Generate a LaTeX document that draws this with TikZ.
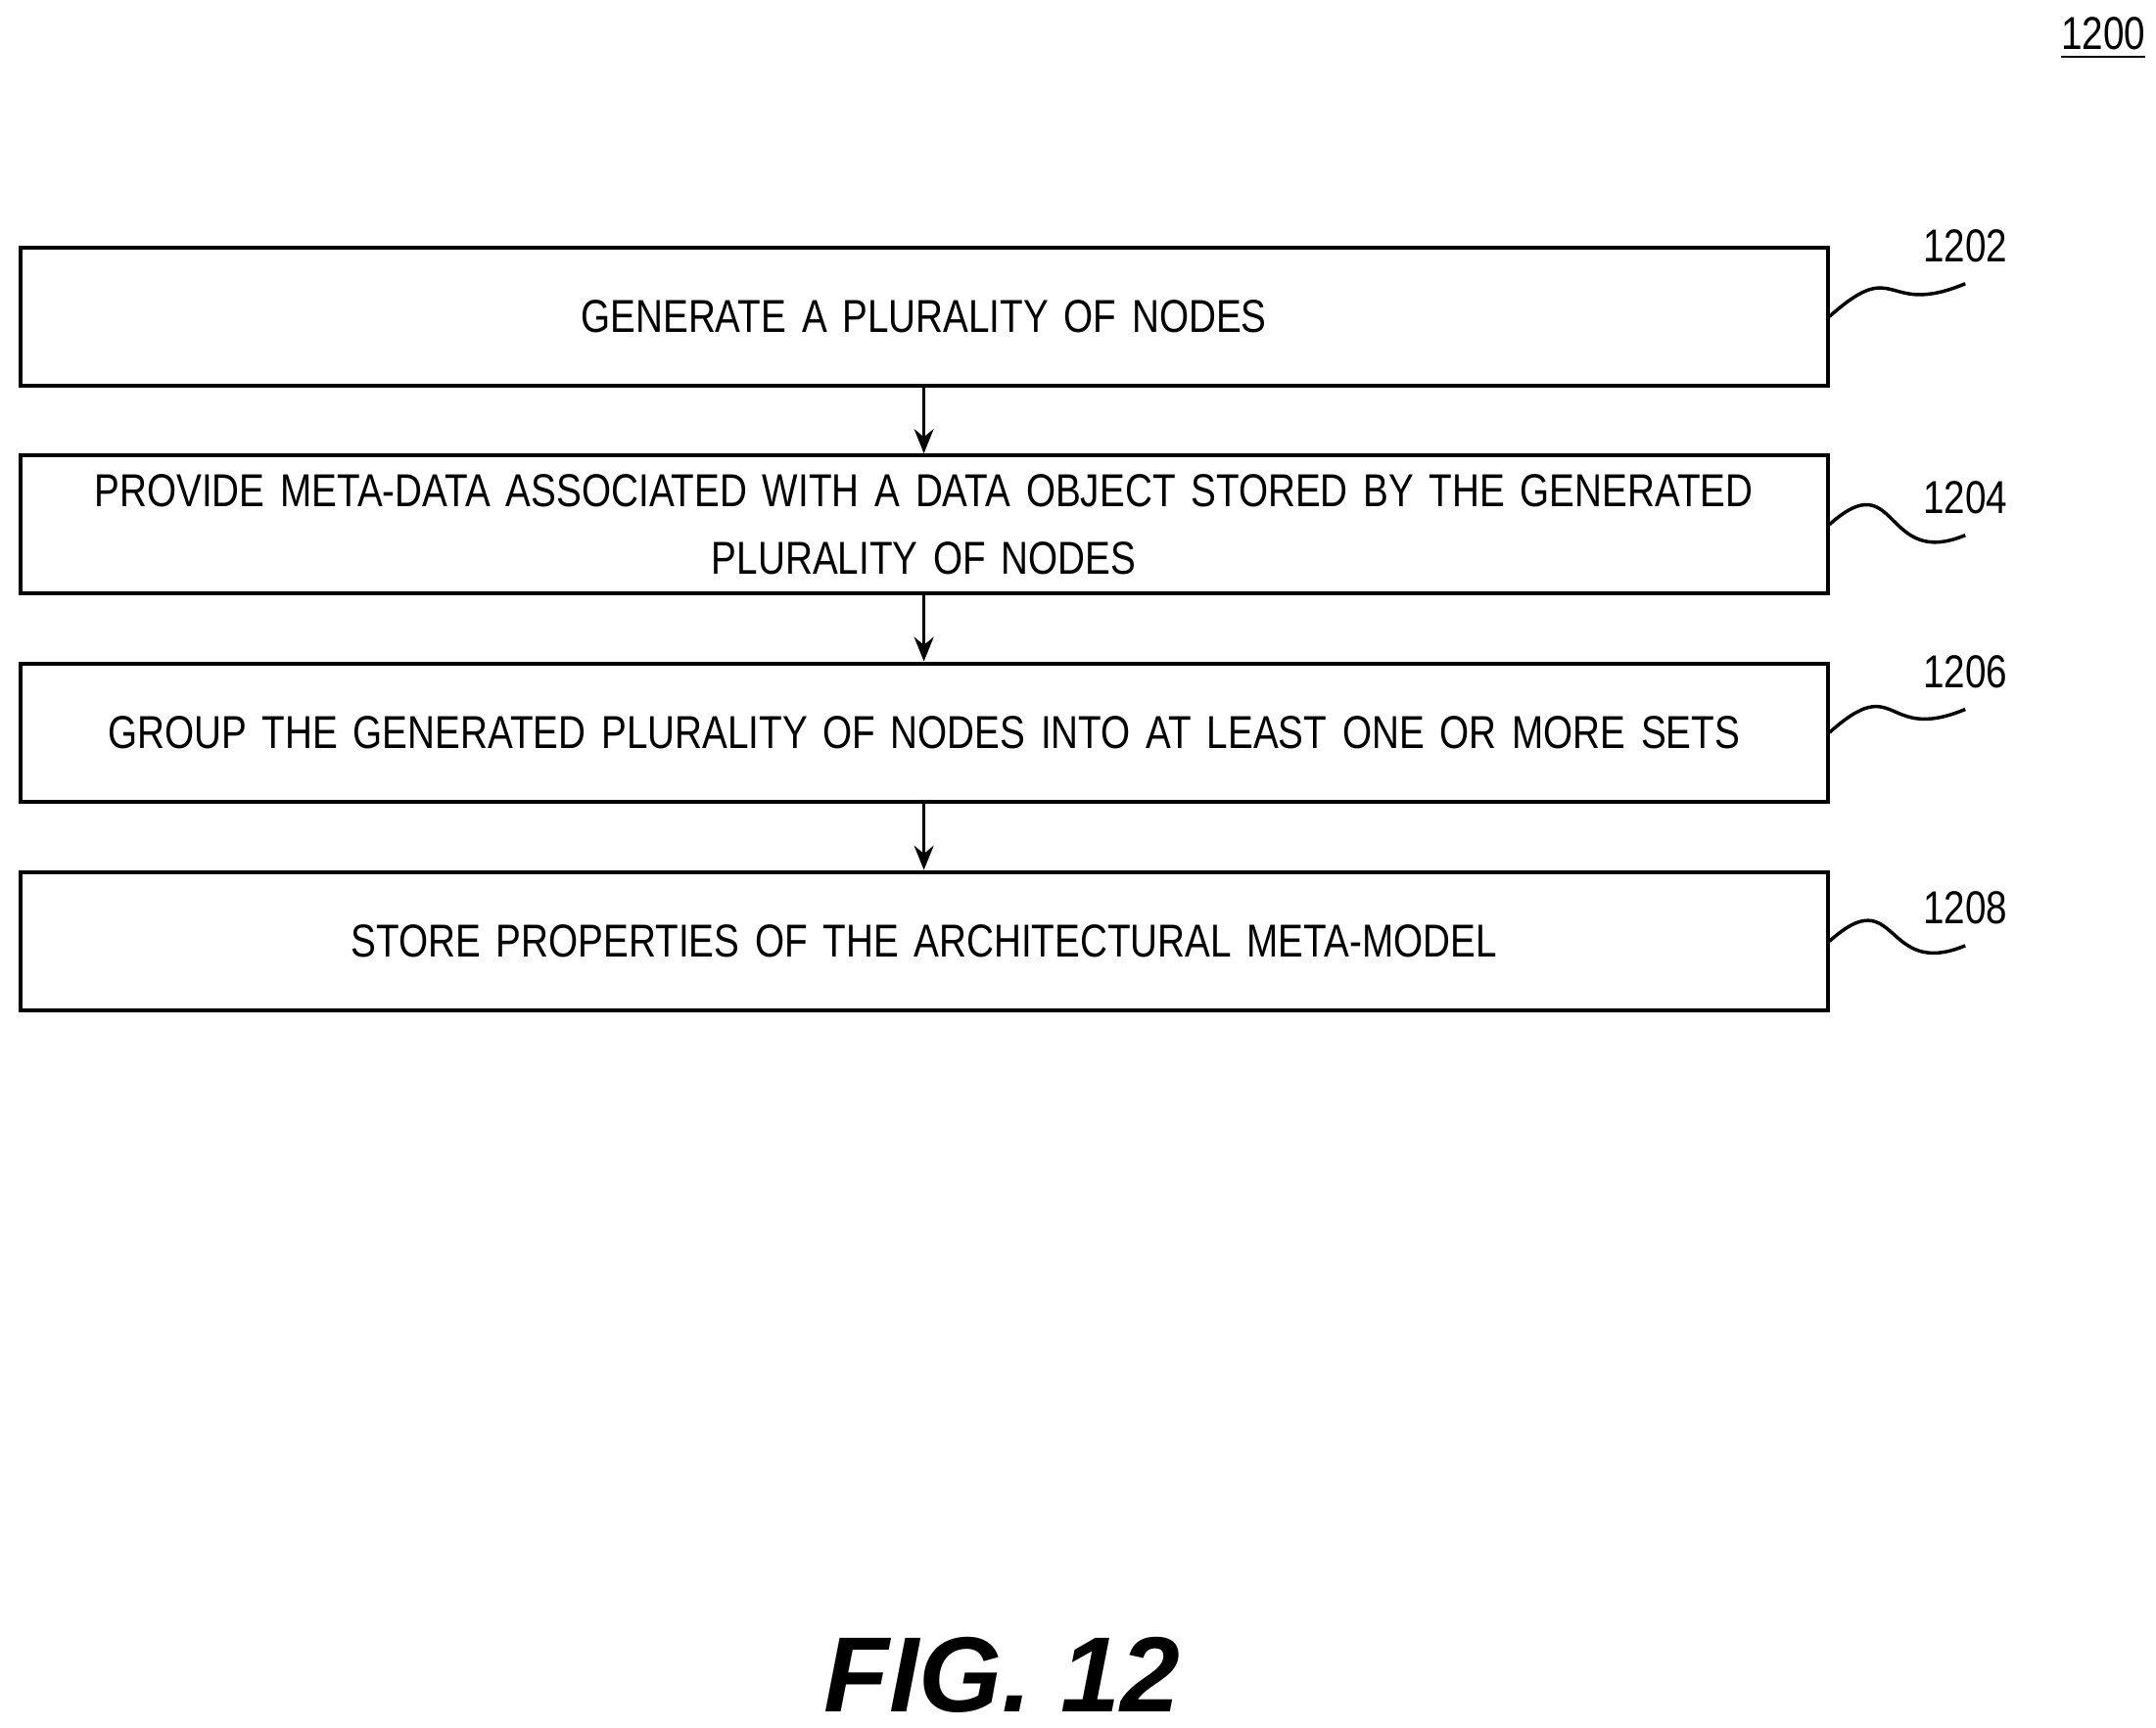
\documentclass[tikz,border=0pt]{standalone}
\usepackage{fontspec}
\setmainfont[FakeStretch=0.82]{Liberation Sans}
\newfontfamily\figfont{Liberation Sans}
\usetikzlibrary{arrows.meta}
\begin{document}
\begin{tikzpicture}[x=0.01cm,y=-0.01cm,
	stepbox/.style={draw, line width=0.8pt, minimum width=13.07cm, text width=12.6cm, minimum height=1cm, align=center, inner sep=0pt, font=\fontsize{9.5}{14}\selectfont},
	ref/.style={font=\fontsize{9.5}{11}\selectfont},
	flow/.style={-{Stealth[length=5pt,width=4pt]}, line width=0.7pt}]
	\useasboundingbox (0,0) rectangle (1560,1250);
	% steps
	\node[stepbox] (s1) at (668.5,229) {GENERATE A PLURALITY OF NODES};
	\node[stepbox] (s2) at (668.5,379.5) {PROVIDE META-DATA ASSOCIATED WITH A DATA OBJECT STORED BY THE GENERATED\\PLURALITY OF NODES};
	\node[stepbox] (s3) at (668.5,530) {GROUP THE GENERATED PLURALITY OF NODES INTO AT LEAST ONE OR MORE SETS};
	\node[stepbox] (s4) at (668.5,681) {STORE PROPERTIES OF THE ARCHITECTURAL META-MODEL};
	\draw[flow] (s1) -- (s2);
	\draw[flow] (s2) -- (s3);
	\draw[flow] (s3) -- (s4);
	% reference numerals
	\node[ref] (r1) at (1422,178) {1202};
	\node[ref] (r2) at (1422,360) {1204};
	\node[ref] (r3) at (1422,486) {1206};
	\node[ref] (r4) at (1422,657) {1208};
	\foreach \s/\r in {s1/r1,s2/r2,s3/r3,s4/r4}
		\draw[line width=0.7pt] (\s.east) .. controls +(50,-45) and +(-60,25) .. ([shift={(0,3)}]\r.south);
	\node[ref] (fig) at (1522,28) {\underline{1200}};
	\node (title) at (725,1212) {\figfont\fontsize{22}{26}\selectfont\bfseries\itshape FIG. 12};
\end{tikzpicture}
\end{document}
